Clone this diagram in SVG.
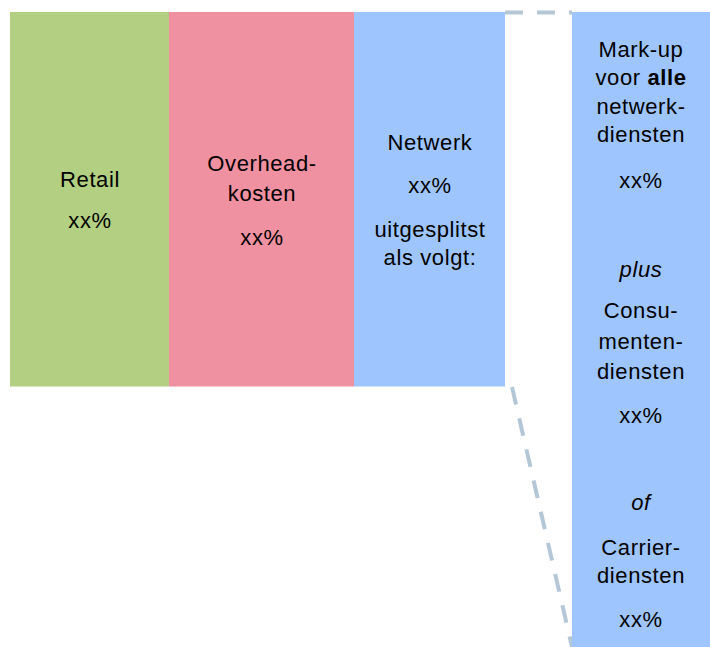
<svg xmlns="http://www.w3.org/2000/svg" width="710" height="647" viewBox="0 0 710 647">
<style>
text{font-family:"Liberation Sans",Arial,sans-serif;font-size:22px;fill:#000;text-anchor:middle;letter-spacing:0.6px}
.dash{stroke:#b4c7d7;stroke-width:4;fill:none;stroke-dasharray:18 14}
</style>
<rect width="710" height="647" fill="#fff"/>
<g id="connectors">
<line class="dash" x1="505" y1="12.5" x2="572" y2="12.5"/>
<line class="dash" x1="512" y1="387" x2="572" y2="647"/>
</g>
<g id="retail">
<rect x="10" y="12" width="159" height="374.5" fill="#b3cf82"/>
<text x="90" y="187">Retail</text>
<text x="90" y="228">xx%</text>
</g>
<g id="overhead">
<rect x="169" y="12" width="185" height="374.5" fill="#ef91a0"/>
<text x="262" y="171">Overhead-</text>
<text x="262" y="201">kosten</text>
<text x="262" y="245">xx%</text>
</g>
<g id="netwerk">
<rect x="354" y="12" width="151" height="374.5" fill="#9ec5fe"/>
<text x="430" y="150">Netwerk</text>
<text x="430" y="193">xx%</text>
<text x="430" y="237">uitgesplitst</text>
<text x="430" y="265">als volgt:</text>
</g>
<g id="detail">
<rect x="572" y="12" width="138" height="635" fill="#9ec5fe"/>
<text x="641" y="57">Mark-up</text>
<text x="641" y="85">voor <tspan font-weight="bold">alle</tspan></text>
<text x="641" y="114">netwerk-</text>
<text x="641" y="142">diensten</text>
<text x="641" y="188">xx%</text>
<text x="641" y="277" font-style="italic">plus</text>
<text x="641" y="318">Consu-</text>
<text x="641" y="349">menten-</text>
<text x="641" y="379">diensten</text>
<text x="641" y="423">xx%</text>
<text x="641" y="510" font-style="italic">of</text>
<text x="641" y="555">Carrier-</text>
<text x="641" y="583">diensten</text>
<text x="641" y="627">xx%</text>
</g>
</svg>
